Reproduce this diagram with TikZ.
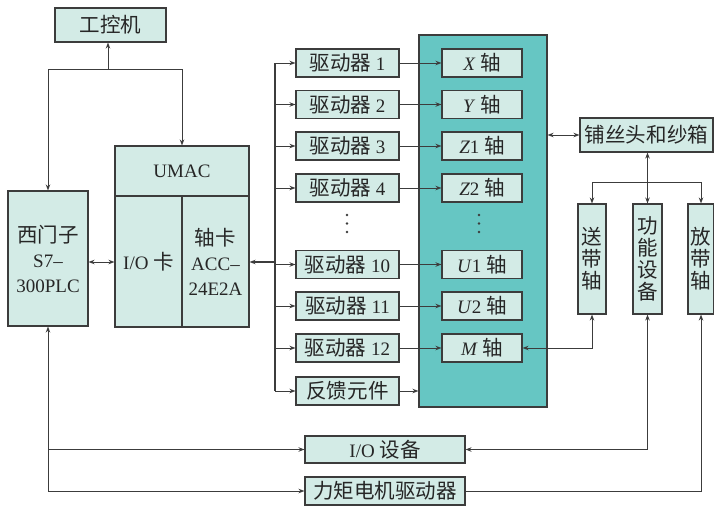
\documentclass[tikz,border=0pt]{standalone}
\usepackage{fontspec}
\setmainfont{Liberation Serif}
\newfontfamily\cjk[Scale=1.08]{Noto Sans CJK SC}
\usetikzlibrary{arrows.meta}
\definecolor{boxfill}{HTML}{D3EBE6}
\definecolor{bigfill}{HTML}{66C6C3}
\definecolor{linec}{HTML}{3C3C3C}
\begin{document}
\begin{tikzpicture}[x=1pt,y=-1pt,
  every node/.style={inner sep=0pt, font=\fontsize{19}{25}\selectfont, text=black!85},
  bx/.style={draw=linec, fill=boxfill, line width=1.1pt, rectangle, align=center},
  drv/.style={bx, minimum width=103pt, minimum height=28pt},
  axb/.style={bx, minimum width=80pt, minimum height=28pt},
  vbx/.style={bx, minimum width=28pt, minimum height=110pt, font=\fontsize{19}{22}\selectfont\cjk},
  ln/.style={draw=linec, line width=1pt},
  arr/.style={ln, -{Stealth[length=6pt,width=4.5pt]}},
  darr/.style={ln, {Stealth[length=6pt,width=4.5pt]}-{Stealth[length=6pt,width=4.5pt]}},
]
\useasboundingbox (0,0) rectangle (714,506);
% big teal box
\node[draw=linec, fill=bigfill, line width=1.1pt, minimum width=128pt, minimum height=372pt] (big) at (483,221) {};
% left part
\node[bx, minimum width=111pt, minimum height=34pt] (ipc) at (110.5,25) {\cjk 工控机};
\node[bx, minimum width=134pt, minimum height=50pt] (umac) at (182,171) {UMAC};
\node[bx, minimum width=67pt, minimum height=131pt] (io) at (148.5,261.5) {I/O {\cjk 卡}};
\node[bx, minimum width=67pt, minimum height=131pt] (axc) at (215.5,261.5) {{\cjk 轴卡}\\ACC–\\24E2A};
\node[bx, minimum width=80pt, minimum height=135pt] (plc) at (48,258.5) {{\cjk 西门子}\\S7–\\300PLC};
% drivers
\node[drv] (d1) at (347.5,63) {{\cjk 驱动器} 1};
\node[drv] (d2) at (347.5,104.5) {{\cjk 驱动器} 2};
\node[drv] (d3) at (347.5,146) {{\cjk 驱动器} 3};
\node[drv] (d4) at (347.5,188) {{\cjk 驱动器} 4};
\node[drv] (d10) at (347.5,264.5) {{\cjk 驱动器} 10};
\node[drv] (d11) at (347.5,306) {{\cjk 驱动器} 11};
\node[drv] (d12) at (347.5,348) {{\cjk 驱动器} 12};
\node[drv] (fb) at (347.5,391) {\cjk 反馈元件};
% axes
\node[axb] (a1) at (482,63) {\textit{X} {\cjk 轴}};
\node[axb] (a2) at (482,104.5) {\textit{Y} {\cjk 轴}};
\node[axb] (a3) at (482,146) {\textit{Z}1 {\cjk 轴}};
\node[axb] (a4) at (482,188) {\textit{Z}2 {\cjk 轴}};
\node[axb] (a10) at (482,264.5) {\textit{U}1 {\cjk 轴}};
\node[axb] (a11) at (482,306) {\textit{U}2 {\cjk 轴}};
\node[axb] (a12) at (482,348) {\textit{M} {\cjk 轴}};
% dots
\foreach \yy in {215,223.5,232} {
  \fill[linec] (347,\yy) circle (1.3);
  \fill[linec] (479,\yy) circle (1.3);
}
% right part
\node[bx, minimum width=133pt, minimum height=34pt] (head) at (646.5,135) {\cjk 铺丝头和纱箱};
\node[vbx] (feed) at (592,259) {送\\带\\轴};
\node[vbx, minimum width=29pt] (func) at (647.5,259) {功\\能\\设\\备};
\node[vbx, minimum width=26pt] (rel) at (701,259) {放\\带\\轴};
% bottom
\node[bx, minimum width=160pt, minimum height=27pt] (iodev) at (385,449.5) {I/O {\cjk 设备}};
\node[bx, minimum width=160pt, minimum height=28pt] (torque) at (385,491) {\cjk 力矩电机驱动器};
% connectors: top
\coordinate (j1) at (108,69);
\draw[arr] (j1) -- (j1 |- ipc.south);
\draw[arr] (j1) -| (plc.north);
\draw[arr] (j1) -| (umac.north);
\draw[darr] (io.west |- 0,262) -- (plc.east |- 0,262);
% bus
\coordinate (bus) at (275,0);
\draw[ln, line width=1.4pt] (bus |- d1) -- (bus |- fb);
\draw[ln, line width=1.4pt, -{Stealth[length=6pt,width=4.5pt]}] (bus |- 0,262) -- (axc.east |- 0,262);
\foreach \n in {d1,d2,d3,d4,d10,d11,d12,fb} {
  \draw[arr] (bus |- \n) -- (\n.west);
}
\draw[arr] (d1.east) -- (a1.west);
\draw[arr] (d2.east) -- (a2.west);
\draw[arr] (d3.east) -- (a3.west);
\draw[arr] (d4.east) -- (a4.west);
\draw[arr] (d10.east) -- (a10.west);
\draw[arr] (d11.east) -- (a11.west);
\draw[arr] (d12.east) -- (a12.west);
\draw[arr] (fb.east) -- (big.west |- fb);
% right connectors
\draw[darr] (big.east |- head) -- (head.west);
\draw[darr] (func.north |- head.south) -- (func.north);
\coordinate (j2) at (647.5,182);
\draw[arr] (j2) -| (feed.north);
\draw[arr] (j2) -| (rel.north);
\draw[darr] (feed.south) |- (a12.east);
\draw[darr] (func.south) |- (iodev.east);
\draw[arr] (torque.east) -| (rel.south);
% left bottom
\draw[darr] (plc.south) |- (torque.west);
\draw[arr] (plc.south |- iodev) -- (iodev.west);
\end{tikzpicture}
\end{document}
